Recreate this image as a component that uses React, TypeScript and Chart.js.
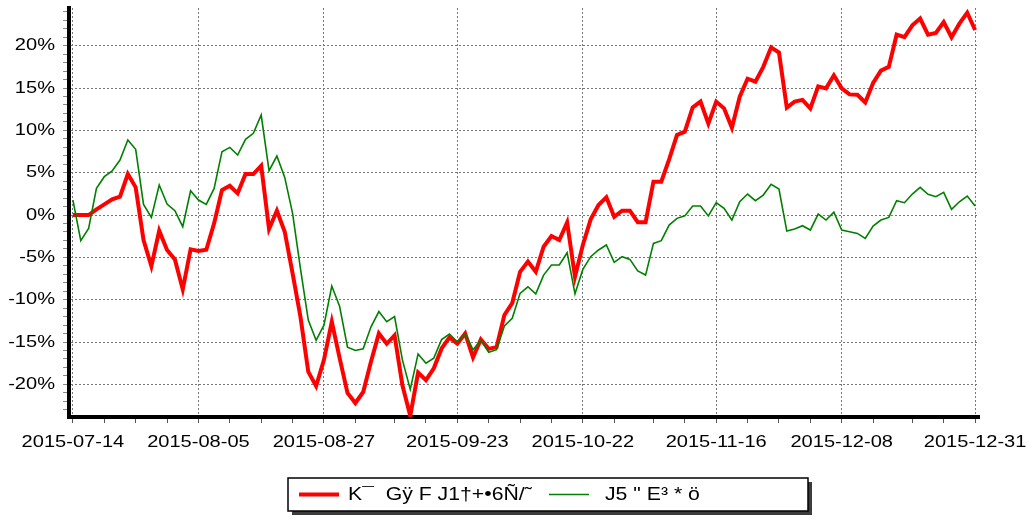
import React, { useEffect, useRef } from 'react';
import { Chart, registerables } from 'chart.js';

Chart.register(...registerables);

// Trading days (categories)
const DATES: string[] = [
  '2015-07-14', '2015-07-15', '2015-07-16', '2015-07-17', '2015-07-20', '2015-07-21', '2015-07-22', '2015-07-23', '2015-07-24', '2015-07-27', '2015-07-28', '2015-07-29', '2015-07-30', '2015-07-31',
  '2015-08-03', '2015-08-04', '2015-08-05', '2015-08-06', '2015-08-07', '2015-08-10', '2015-08-11', '2015-08-12', '2015-08-13', '2015-08-14', '2015-08-17', '2015-08-18', '2015-08-19', '2015-08-20', '2015-08-21', '2015-08-24', '2015-08-25', '2015-08-26', '2015-08-27', '2015-08-28', '2015-08-31',
  '2015-09-01', '2015-09-02', '2015-09-07', '2015-09-08', '2015-09-09', '2015-09-10', '2015-09-11', '2015-09-14', '2015-09-15', '2015-09-16', '2015-09-17', '2015-09-18', '2015-09-21', '2015-09-22', '2015-09-23', '2015-09-24', '2015-09-25', '2015-09-28', '2015-09-29', '2015-09-30',
  '2015-10-08', '2015-10-09', '2015-10-12', '2015-10-13', '2015-10-14', '2015-10-15', '2015-10-16', '2015-10-19', '2015-10-20', '2015-10-21', '2015-10-22', '2015-10-23', '2015-10-26', '2015-10-27', '2015-10-28', '2015-10-29', '2015-10-30',
  '2015-11-02', '2015-11-03', '2015-11-04', '2015-11-05', '2015-11-06', '2015-11-09', '2015-11-10', '2015-11-11', '2015-11-12', '2015-11-13', '2015-11-16', '2015-11-17', '2015-11-18', '2015-11-19', '2015-11-20', '2015-11-23', '2015-11-24', '2015-11-25', '2015-11-26', '2015-11-27', '2015-11-30',
  '2015-12-01', '2015-12-02', '2015-12-03', '2015-12-04', '2015-12-07', '2015-12-08', '2015-12-09', '2015-12-10', '2015-12-11', '2015-12-14', '2015-12-15', '2015-12-16', '2015-12-17', '2015-12-18', '2015-12-21', '2015-12-22', '2015-12-23', '2015-12-24', '2015-12-25', '2015-12-28', '2015-12-29', '2015-12-30', '2015-12-31',
];

// Dates that carry a tick label
const TICK_LABELS: string[] = ['2015-07-14', '2015-08-05', '2015-08-27', '2015-09-23', '2015-10-22', '2015-11-16', '2015-12-08', '2015-12-31'];

const SERIES_A_NAME = 'K\u00AF  G\u00FF F J1\u2020+\u20226\u00D1/\u02DC';
const SERIES_B_NAME = 'J5 " E\u00B3 * \u00F6';

// Cumulative return, percent
const SERIES_A: number[] = [
  0, 0, 0, 0.67, 1.26, 1.85, 2.17, 4.84, 3.27, -2.95,
  -6.03, -1.85, -4.13, -5.24, -8.78, -4.05, -4.25, -4.1, -0.98, 2.95,
  3.46, 2.56, 4.84, 4.84, 5.83, -1.65, 0.51, -1.97, -6.89, -12.0,
  -18.5, -20.2, -17.1, -12.6, -16.9, -21.0, -22.2, -20.9, -17.3, -13.98,
  -15.2, -14.2, -20.1, -23.7, -18.6, -19.5, -18.1, -15.75, -14.45, -15.2,
  -13.98, -16.8, -14.7, -15.8, -15.6, -11.8, -10.4, -6.7, -5.5, -6.7,
  -3.74, -2.48, -2.95, -0.87, -7.28, -3.54, -0.51, 1.18, 2.09, -0.2,
  0.51, 0.51, -0.85, -0.85, 3.94, 3.94, 6.57, 9.45, 9.84, 12.7,
  13.4, 10.8, 13.4, 12.6, 10.3, 13.98, 16.1, 15.75, 17.5, 19.8,
  19.2, 12.7, 13.4, 13.6, 12.6, 15.2, 14.96, 16.5, 14.96, 14.25,
  14.2, 13.3, 15.6, 17.05, 17.5, 21.3, 21.0, 22.4, 23.2, 21.3,
  21.5, 22.8, 21.0, 22.6, 23.9, 21.85,
];

const SERIES_B: number[] = [
  1.77, -3.03, -1.57, 3.15, 4.53, 5.2, 6.5, 8.86, 7.76, 1.26,
  -0.28, 3.54, 1.3, 0.51, -1.38, 2.87, 1.77, 1.26, 3.15, 7.48,
  7.99, 7.09, 8.94, 9.65, 11.81, 5.24, 6.97, 4.45, 0.2, -6.3,
  -12.4, -14.8, -13.0, -8.39, -10.8, -15.6, -16.0, -15.8, -13.2, -11.4,
  -12.6, -12.0, -17.1, -20.6, -16.4, -17.5, -16.9, -14.7, -14.05, -14.96,
  -14.0, -15.9, -14.8, -16.2, -15.9, -13.1, -12.2, -9.25, -8.47, -9.3,
  -7.09, -5.9, -5.9, -4.45, -9.3, -6.42, -4.92, -4.13, -3.54, -5.59,
  -4.92, -5.24, -6.6, -7.09, -3.35, -3.03, -1.18, -0.39, -0.1, 1.06,
  1.06, -0.1, 1.46, 0.79, -0.59, 1.57, 2.48, 1.69, 2.36, 3.62,
  3.07, -1.89, -1.65, -1.26, -1.77, 0.12, -0.59, 0.35, -1.77, -1.97,
  -2.17, -2.76, -1.3, -0.59, -0.28, 1.69, 1.46, 2.48, 3.27, 2.44,
  2.17, 2.68, 0.67, 1.57, 2.24, 1.06,
];

const Y_MIN = -23.85;
const Y_MAX = 24.45;

const FONT = "'Liberation Sans', Arial, Helvetica, sans-serif";
const TEXT_STRETCH = 1.18;

function stretchText(ctx: any, sx: number) {
  if (ctx.__stretched) return;
  ctx.__stretched = true;
  const origFill = ctx.fillText.bind(ctx);
  const origMeasure = ctx.measureText.bind(ctx);
  ctx.fillText = (text: string, x: number, y: number, maxWidth?: number) => {
    ctx.save();
    ctx.translate(x, y);
    ctx.scale(sx, 1);
    if (maxWidth !== undefined && maxWidth !== null) origFill(text, 0, 0, maxWidth / sx);
    else origFill(text, 0, 0);
    ctx.restore();
  };
  ctx.measureText = (text: string) => {
    const m = origMeasure(text);
    return {
      width: m.width * sx,
      actualBoundingBoxAscent: m.actualBoundingBoxAscent,
      actualBoundingBoxDescent: m.actualBoundingBoxDescent,
      actualBoundingBoxLeft: m.actualBoundingBoxLeft * sx,
      actualBoundingBoxRight: m.actualBoundingBoxRight * sx,
      fontBoundingBoxAscent: m.fontBoundingBoxAscent,
      fontBoundingBoxDescent: m.fontBoundingBoxDescent,
    };
  };
}

export default function App() {
  const ref = useRef<HTMLCanvasElement>(null);

  useEffect(() => {
    const canvas = ref.current;
    if (!canvas) return;
    const ctx = canvas.getContext('2d');
    stretchText(ctx, TEXT_STRETCH);

    const majorIdx = TICK_LABELS.map((l) => DATES.indexOf(l));
    const majorSet = new Set<number>(majorIdx);
    const minorSet = new Set<number>();
    for (let k = 0; k < majorIdx.length - 1; k++) {
      const a = majorIdx[k];
      const b = majorIdx[k + 1];
      for (let q = 1; q < 4; q++) minorSet.add(Math.round(a + ((b - a) * q) / 4));
    }
    const isMajorY = (v: number) => Math.abs(v - Math.round(v)) < 1e-6 && Math.round(v) % 5 === 0;

    const legendBox = {
      id: 'legendBox',
      afterDraw(chart: any) {
        const c = chart.ctx;
        const lx = 288, ly = 478, lw = 520, lh = 33;
        c.save();
        c.fillStyle = '#3c3c3c';
        c.fillRect(lx + 4, ly + 4, lw, lh);
        c.fillStyle = '#ffffff';
        c.fillRect(lx, ly, lw, lh);
        c.strokeStyle = '#000000';
        c.lineWidth = 1.5;
        c.strokeRect(lx, ly, lw, lh);
        const cy = ly + lh / 2;
        const starts = [299, 549];
        chart.data.datasets.forEach((ds: any, i: number) => {
          const x0 = starts[i];
          c.strokeStyle = ds.borderColor;
          c.lineWidth = ds.borderWidth;
          c.beginPath();
          c.moveTo(x0, cy);
          c.lineTo(x0 + 40, cy);
          c.stroke();
          c.fillStyle = '#000000';
          c.font = `18px ${FONT}`;
          c.textAlign = 'left';
          c.textBaseline = 'middle';
          c.fillText(ds.label, x0 + (i === 0 ? 49 : 56), cy + 1);
        });
        c.restore();
      },
    };

    const chart = new Chart(canvas, {
      type: 'line',
      data: {
        labels: DATES,
        datasets: [
          {
            label: SERIES_A_NAME,
            data: SERIES_A,
            borderColor: '#ff0000',
            backgroundColor: '#ff0000',
            borderWidth: 4,
            pointRadius: 0,
            tension: 0,
            order: 1,
          },
          {
            label: SERIES_B_NAME,
            data: SERIES_B,
            borderColor: '#008000',
            backgroundColor: '#008000',
            borderWidth: 1.6,
            pointRadius: 0,
            tension: 0,
            order: 0,
          },
        ],
      },
      options: {
        animation: false,
        responsive: false,
        devicePixelRatio: 1,
        layout: { padding: { left: 0, right: 49, top: 8, bottom: 70 } },
        plugins: { legend: { display: false }, tooltip: { enabled: false } },
        scales: {
          x: {
            type: 'category',
            offset: true,
            grid: {
              offset: false,
              lineWidth: 1,
              color: (c: any) => (majorSet.has(c.index) ? '#777777' : 'rgba(0,0,0,0)'),
              tickColor: (c: any) => (majorSet.has(c.index) || minorSet.has(c.index) ? '#555555' : 'rgba(0,0,0,0)'),
              tickWidth: 1,
              tickLength: 6,
            },
            border: { display: true, color: '#000000', width: 4, dash: [2, 2] },
            ticks: {
              autoSkip: false,
              maxRotation: 0,
              minRotation: 0,
              padding: 9,
              color: '#000000',
              font: { family: FONT, size: 17 },
              callback: (_v: any, i: number) => (majorSet.has(i) ? DATES[i] : ''),
            },
            afterFit: (s: any) => {
              s.height = 33;
              s.paddingLeft = 0;
              s.paddingRight = 0;
            },
          },
          y: {
            type: 'linear',
            min: Y_MIN,
            max: Y_MAX,
            grid: {
              lineWidth: 1,
              color: (c: any) => (c.tick && isMajorY(c.tick.value) ? '#777777' : 'rgba(0,0,0,0)'),
              tickColor: '#888888',
              tickWidth: 1,
              tickLength: 6,
            },
            border: { display: true, color: '#000000', width: 4, dash: [2, 2] },
            ticks: {
              stepSize: 1,
              includeBounds: false,
              autoSkip: false,
              padding: 8,
              color: '#000000',
              font: { family: FONT, size: 17, lineHeight: 1 },
              callback: (v: any) => (isMajorY(Number(v)) ? `${Math.round(Number(v))}%` : ''),
            },
            afterFit: (s: any) => {
              s.width = 69;
              s.paddingTop = 0;
              s.paddingBottom = 0;
            },
          },
        },
      },
      plugins: [legendBox],
    } as any);

    return () => chart.destroy();
  }, []);

  return (
    <div style={{ position: 'fixed', left: 0, top: 0, width: 1028, height: 520, background: '#fff' }}>
      <canvas ref={ref} width={1028} height={520} style={{ display: 'block' }} />
    </div>
  );
}
